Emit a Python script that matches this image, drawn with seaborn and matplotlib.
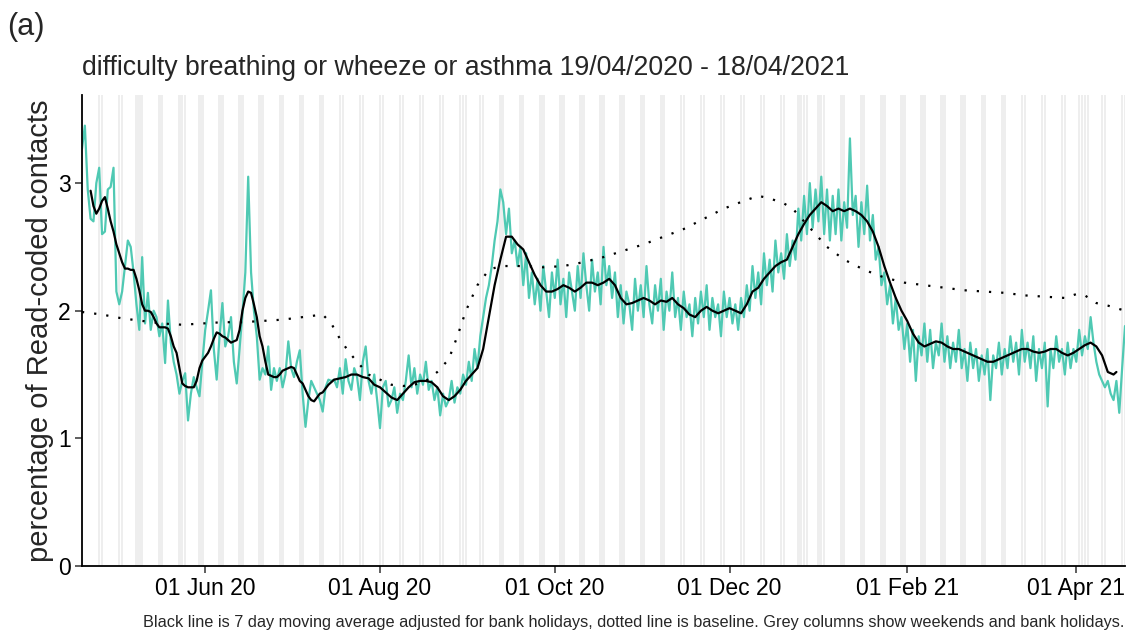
import numpy as np
import pandas as pd
import matplotlib
matplotlib.use("Agg")
import matplotlib.pyplot as plt
import matplotlib.dates as mdates
import seaborn as sns

# ---------------- data ----------------
start_date = "2020-04-19"
end_date = "2021-04-18"

daily_pct = [
    3.27, 3.45, 2.95, 2.72, 2.70, 3.00, 3.12,
    2.60, 2.62, 2.95, 2.97, 3.12, 2.15, 2.05,
    2.15, 2.35, 2.55, 2.50, 2.30, 2.05, 1.85,
    2.42, 1.90, 2.14, 1.85, 2.00, 1.95, 1.80,
    1.90, 1.59, 2.08, 1.75, 1.60, 1.50, 1.35,
    1.45, 1.51, 1.14, 1.35, 1.48, 1.40, 1.33,
    1.60, 1.85, 2.00, 2.16, 1.70, 1.46, 1.80,
    2.06, 1.72, 1.80, 1.95, 1.60, 1.43, 1.70,
    1.98, 2.30, 3.05, 2.30, 2.00, 1.80, 1.46,
    1.55, 1.50, 1.72, 1.38, 1.55, 1.45, 1.55,
    1.40, 1.50, 1.76, 1.55, 1.48, 1.60, 1.69,
    1.35, 1.09, 1.30, 1.45, 1.40, 1.35, 1.30,
    1.21, 1.40, 1.46, 1.45, 1.46, 1.40, 1.55,
    1.35, 1.62, 1.45, 1.38, 1.55, 1.48, 1.30,
    1.60, 1.72, 1.45, 1.35, 1.50, 1.30, 1.08,
    1.40, 1.45, 1.25, 1.30, 1.40, 1.20, 1.35,
    1.30, 1.45, 1.65, 1.40, 1.55, 1.35, 1.50,
    1.42, 1.60, 1.38, 1.45, 1.30, 1.40, 1.18,
    1.35, 1.25, 1.30, 1.45, 1.28, 1.40, 1.35,
    1.50, 1.42, 1.60, 1.45, 1.70, 1.55, 1.80,
    1.95, 2.10, 2.20, 2.35, 2.55, 2.70, 2.95,
    2.85, 2.60, 2.80, 2.45, 2.55, 2.35, 2.50,
    2.20, 2.45, 2.10, 2.30, 2.05, 2.25, 2.00,
    2.35, 2.15, 1.95, 2.30, 2.10, 2.40, 2.05,
    2.25, 1.95, 2.30, 2.15, 2.00, 2.35, 2.10,
    2.45, 2.20, 2.00, 2.40, 2.15, 2.30, 2.05,
    2.50, 2.20, 2.35, 2.10, 2.30, 1.95, 2.20,
    1.90, 2.15, 2.05, 1.85, 2.25, 2.00, 2.20,
    1.95, 2.35, 2.05, 1.90, 2.20, 2.00, 2.25,
    1.85, 2.15, 2.00, 2.30, 1.95, 2.10, 1.85,
    2.15, 1.95, 2.05, 1.80, 2.10, 1.90, 2.15,
    1.95, 2.20, 1.85, 2.10, 1.95, 2.05, 1.80,
    2.15, 1.95, 2.10, 1.90, 2.05, 1.85, 2.10,
    1.95, 2.20, 2.00, 2.35, 2.10, 2.30, 2.05,
    2.45, 2.20, 2.40, 2.15, 2.55, 2.30, 2.45,
    2.25, 2.60, 2.35, 2.55, 2.40, 2.80, 2.55,
    2.90, 2.60, 3.00, 2.65, 2.95, 2.70, 3.05,
    2.60, 2.95, 2.55, 2.90, 2.60, 2.95, 2.55,
    2.85, 2.65, 3.35, 2.75, 2.90, 2.50, 2.85,
    2.60, 2.98, 2.55, 2.75, 2.40, 2.50, 2.20,
    2.30, 2.05, 2.20, 1.90, 2.10, 1.85, 1.95,
    1.70, 1.90, 1.60, 1.85, 1.45, 1.80, 1.65,
    1.90, 1.60, 1.85, 1.55, 1.75, 1.65, 1.90,
    1.60, 1.80, 1.55, 1.75, 1.60, 1.85, 1.55,
    1.70, 1.45, 1.75, 1.55, 1.70, 1.45, 1.65,
    1.50, 1.70, 1.30, 1.65, 1.55, 1.75, 1.50,
    1.70, 1.55, 1.80, 1.60, 1.75, 1.50, 1.85,
    1.60, 1.75, 1.55, 1.80, 1.45, 1.70, 1.55,
    1.75, 1.25, 1.70, 1.55, 1.80, 1.60, 1.70,
    1.50, 1.75, 1.55, 1.70, 1.60, 1.85, 1.65,
    1.80, 1.70, 1.95, 1.75, 1.60, 1.50, 1.45,
    1.40, 1.45, 1.35, 1.30, 1.45, 1.20, 1.55,
    1.88,
]

ma_day = list(range(3, 89)) + list(range(90, 361, 2)) + [361]
ma_pct = [
    2.94, 2.82, 2.76, 2.80, 2.86, 2.89, 2.80, 2.70, 2.62, 2.52,
    2.45, 2.38, 2.33, 2.33, 2.32, 2.32, 2.25, 2.16, 2.05, 2.00,
    2.00, 1.99, 1.95, 1.90, 1.87, 1.87, 1.87, 1.86, 1.80, 1.72,
    1.67, 1.55, 1.43, 1.41, 1.40, 1.40, 1.40, 1.45, 1.55, 1.61,
    1.64, 1.67, 1.72, 1.78, 1.83, 1.82, 1.80, 1.79, 1.77, 1.75,
    1.76, 1.77, 1.85, 2.00, 2.10, 2.15, 2.14, 2.05, 1.95, 1.80,
    1.72, 1.60, 1.50, 1.49, 1.48, 1.48, 1.50, 1.53, 1.54, 1.55,
    1.56, 1.55, 1.50, 1.45, 1.43, 1.38, 1.33, 1.30, 1.29, 1.32,
    1.35, 1.36, 1.39, 1.42, 1.44, 1.46,
    # every second day from day 90
    1.47, 1.48, 1.50, 1.50, 1.48, 1.47, 1.42, 1.40, 1.36, 1.32,
    1.30, 1.35, 1.40, 1.44, 1.45, 1.45, 1.44, 1.40, 1.33, 1.30,
    1.33, 1.38, 1.45, 1.50, 1.55, 1.70, 1.95, 2.20, 2.40, 2.58,
    2.58, 2.52, 2.48, 2.38, 2.28, 2.20, 2.15, 2.15, 2.17, 2.20,
    2.18, 2.15, 2.18, 2.22, 2.22, 2.20, 2.22, 2.25, 2.20, 2.10,
    2.05, 2.06, 2.08, 2.10, 2.08, 2.05, 2.08, 2.07, 2.10, 2.05,
    2.02, 1.97, 1.95, 2.00, 2.03, 2.00, 1.98, 2.00, 2.02, 2.00,
    1.98, 2.05, 2.15, 2.18, 2.25, 2.30, 2.35, 2.38, 2.40, 2.50,
    2.60, 2.68, 2.75, 2.80, 2.85, 2.82, 2.78, 2.80, 2.78, 2.80,
    2.78, 2.75, 2.70, 2.62, 2.50, 2.35, 2.22, 2.10, 2.00, 1.92,
    1.82, 1.75, 1.72, 1.74, 1.76, 1.75, 1.72, 1.70, 1.70, 1.68,
    1.66, 1.64, 1.62, 1.60, 1.60, 1.62, 1.64, 1.66, 1.68, 1.70,
    1.70, 1.68, 1.67, 1.68, 1.70, 1.70, 1.67, 1.65, 1.67, 1.70,
    1.73, 1.75, 1.72, 1.65, 1.52, 1.50,
    1.52,
]

base_day = [0, 7, 14, 21, 28, 35, 42, 49, 56, 63, 70, 77, 84, 87, 90, 93,
            96, 100, 104, 108, 112, 116, 120, 124, 128, 131, 134, 138, 142,
            146, 154, 161, 168, 175, 182, 189, 196, 203, 210, 217, 224, 231,
            236, 240, 245, 248, 252, 256, 260, 266, 273, 280, 287, 294, 301,
            308, 315, 322, 329, 336, 343, 347, 350, 354, 358, 364]
base_pct = [1.99, 1.97, 1.94, 1.92, 1.90, 1.89, 1.90, 1.91, 1.91, 1.92, 1.93,
            1.95, 1.97, 1.90, 1.78, 1.68, 1.60, 1.50, 1.46, 1.42, 1.41, 1.42,
            1.45, 1.52, 1.62, 1.80, 2.00, 2.20, 2.32, 2.35, 2.35, 2.34, 2.35,
            2.38, 2.42, 2.47, 2.52, 2.58, 2.64, 2.72, 2.80, 2.86, 2.90, 2.88,
            2.84, 2.80, 2.70, 2.60, 2.50, 2.40, 2.32, 2.26, 2.22, 2.20, 2.18,
            2.16, 2.15, 2.14, 2.12, 2.11, 2.10, 2.13, 2.12, 2.06, 2.04, 2.00]

bank_holidays = ["2020-05-08", "2020-05-25", "2020-08-31", "2020-12-25",
                 "2020-12-28", "2021-01-01", "2021-04-02", "2021-04-05"]
tick_dates = ["2020-06-01", "2020-08-01", "2020-10-01", "2020-12-01",
              "2021-02-01", "2021-04-01"]
y_ticks = [0, 1, 2, 3]

title = "difficulty breathing or wheeze or asthma 19/04/2020 - 18/04/2021"
ylabel = "percentage of Read-coded contacts"
caption = ("Black line is 7 day moving average adjusted for bank holidays, dotted line is "
           "baseline. Grey columns show weekends and bank holidays.")
panel_tag = "(a)"

# ---------------- frames ----------------
dates = pd.date_range(start_date, end_date, freq="D")
df_daily = pd.DataFrame({"date": dates, "pct": daily_pct})
df_ma = pd.DataFrame({"date": dates[ma_day], "pct": ma_pct})
df_base = pd.DataFrame({"date": dates[base_day], "pct": base_pct})

# ---------------- plot ----------------
sns.set_style("ticks")
plt.rcParams["font.family"] = ["Liberation Sans", "DejaVu Sans"]

W, H = 1127, 634
fig = plt.figure(figsize=(W / 100, H / 100), dpi=100)
ax = fig.add_axes([82 / W, (H - 566) / H, (1125 - 82) / W, (566 - 95) / H])

# grey columns: weekends & bank holidays
bh = set(pd.to_datetime(bank_holidays))
for d in dates:
    if d.weekday() >= 5 or d in bh:
        x0 = mdates.date2num(d)
        ax.axvspan(x0 - 0.42, x0 + 0.42, color="#EEEEEE", lw=0, zorder=0)

sns.lineplot(data=df_daily, x="date", y="pct", ax=ax, color="#4FC9B3",
             lw=1.6, zorder=2)
sns.lineplot(data=df_ma, x="date", y="pct", ax=ax, color="black",
             lw=1.6, zorder=3)
sns.lineplot(data=df_base, x="date", y="pct", ax=ax, color="black",
             lw=1.6, zorder=3, linestyle=(0, (1, 4.5)))

ax.set_xlim(mdates.date2num(dates[0]), mdates.date2num(dates[-1]))
ax.set_ylim(0, 3.69)
ax.set_xticks([mdates.date2num(pd.Timestamp(t)) for t in tick_dates])
ax.xaxis.set_major_formatter(mdates.DateFormatter("%d %b %y"))
ax.set_yticks(y_ticks)
ax.tick_params(axis="both", labelsize=16.5, length=5, width=1.1, color="#333333",
               labelcolor="black", pad=3)
ax.set_xlabel("")
ax.set_ylabel(ylabel, fontsize=21, labelpad=3)
for s in ["left", "bottom"]:
    ax.spines[s].set_linewidth(1.3)
    ax.spines[s].set_color("black")
sns.despine(ax=ax)

fig.text(82 / W, 1 - 68 / H, title, fontsize=19.2, ha="left", va="center")
fig.text(7 / W, 1 - 27 / H, panel_tag, fontsize=22, ha="left", va="center")
fig.text(1124 / W, 1 - 622 / H, caption, fontsize=11.7, ha="right", va="center")

fig.savefig("out.png", dpi=100)
